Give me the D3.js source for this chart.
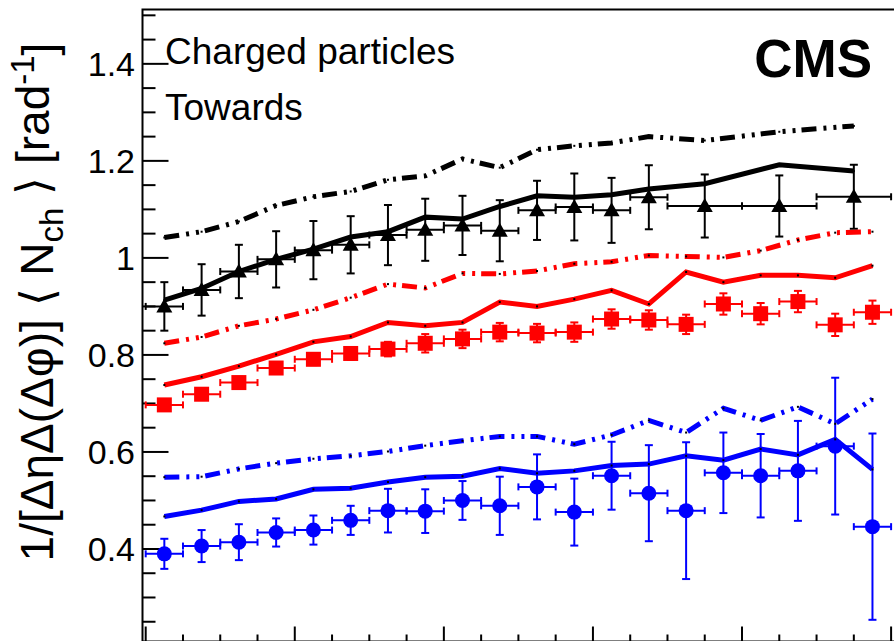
<!DOCTYPE html>
<html>
<head>
<meta charset="utf-8">
<script src="https://cdn.jsdelivr.net/npm/d3@7"></script>
<style>
  body { margin: 0; background: #fff; }
  text { font-family: "Liberation Sans", Arial, sans-serif; }
</style>
</head>
<body>
<div id="chart"></div>
<script>
const width = 894;
const height = 641;

// bin edges (in axis units, minor tick = 1)
const binsFine = d3.range(0, 20).map(i => [i, i + 1]);
const binsBlack = d3.range(0, 14).map(i => [i, i + 1]).concat([[14, 16], [16, 18], [18, 20]]);

// black triangles (towards, data)
const blackData = [0.900, 0.934, 0.972, 0.997, 1.016, 1.027, 1.047, 1.058, 1.067, 1.056, 1.098, 1.105, 1.098, 1.125, 1.107, 1.107, 1.126];
const blackErr  = [0.050, 0.053, 0.055, 0.058, 0.060, 0.059, 0.062, 0.064, 0.061, 0.063, 0.061, 0.069, 0.067, 0.066, 0.065, 0.063, 0.066];
const blackSolid = [0.913, 0.937, 0.972, 0.997, 1.018, 1.043, 1.054, 1.084, 1.080, 1.106, 1.128, 1.125, 1.130, 1.142, 1.153, 1.192, 1.179];
const blackDash  = [1.042, 1.054, 1.075, 1.108, 1.126, 1.137, 1.161, 1.169, 1.204, 1.186, 1.223, 1.231, 1.237, 1.250, 1.242, 1.260, 1.272];

// red squares
const redData = [0.697, 0.719, 0.743, 0.773, 0.791, 0.803, 0.812, 0.824, 0.833, 0.847, 0.845, 0.847, 0.874, 0.872, 0.863, 0.905, 0.885, 0.910, 0.862, 0.888];
const redErr  = [0.012, 0.012, 0.012, 0.012, 0.012, 0.013, 0.015, 0.019, 0.019, 0.019, 0.019, 0.020, 0.020, 0.020, 0.020, 0.022, 0.022, 0.022, 0.023, 0.024];
const redSolid = [0.738, 0.755, 0.777, 0.801, 0.827, 0.838, 0.867, 0.860, 0.867, 0.909, 0.900, 0.915, 0.933, 0.905, 0.971, 0.950, 0.964, 0.964, 0.959, 0.984];
const redDash  = [0.824, 0.837, 0.860, 0.874, 0.893, 0.918, 0.946, 0.938, 0.968, 0.967, 0.973, 0.988, 0.992, 1.005, 1.003, 1.001, 1.015, 1.037, 1.052, 1.054];

// blue circles
const blueData = [0.390, 0.406, 0.414, 0.434, 0.439, 0.459, 0.479, 0.478, 0.500, 0.489, 0.528, 0.476, 0.551, 0.515, 0.479, 0.557, 0.551, 0.561, 0.612, 0.446];
const blueErr  = [0.031, 0.033, 0.037, 0.029, 0.030, 0.030, 0.045, 0.045, 0.040, 0.060, 0.067, 0.069, 0.070, 0.099, 0.141, 0.083, 0.086, 0.103, 0.141, 0.192];
const blueSolid = [0.467, 0.480, 0.498, 0.503, 0.523, 0.525, 0.538, 0.548, 0.550, 0.566, 0.556, 0.561, 0.572, 0.575, 0.592, 0.583, 0.606, 0.594, 0.626, 0.564];
const blueDash  = [0.548, 0.549, 0.565, 0.577, 0.586, 0.592, 0.601, 0.613, 0.623, 0.632, 0.632, 0.616, 0.635, 0.665, 0.640, 0.690, 0.665, 0.693, 0.658, 0.709];

const yTicks = [0.4, 0.6, 0.8, 1.0, 1.2, 1.4];

const x = d3.scaleLinear().domain([0, 20]).range([145.7, 891.1]);
const y = d3.scaleLinear().domain([0.2, 1.511]).range([646, 10]);

const svg = d3.select("#chart").append("svg")
  .attr("width", width)
  .attr("height", height);

const frameL = 142.5, frameT = 9.5, frameB = 641.5, frameR = 900;

// frame
svg.append("path")
  .attr("d", `M${frameL},${frameB}V${frameT}H${frameR}`)
  .attr("fill", "none").attr("stroke", "black").attr("stroke-width", 2);
svg.append("line")
  .attr("x1", frameL).attr("x2", frameR).attr("y1", frameB).attr("y2", frameB)
  .attr("stroke", "black").attr("stroke-width", 2);

// y ticks
d3.range(0.25, 1.5001, 0.05).forEach(v => {
  const major = Math.abs(v * 5 - Math.round(v * 5)) < 1e-6;
  svg.append("line")
    .attr("x1", frameL).attr("x2", frameL + (major ? 26 : 13))
    .attr("y1", y(v)).attr("y2", y(v))
    .attr("stroke", "black").attr("stroke-width", 2);
});
yTicks.forEach(v => {
  svg.append("text")
    .attr("x", 135).attr("y", y(v)).attr("dy", "0.36em")
    .attr("text-anchor", "end")
    .attr("font-size", "34px")
    .text(String(+v.toFixed(1)));
});

// x ticks
d3.range(0, 21).forEach(u => {
  const major = u % 4 === 0;
  svg.append("line")
    .attr("x1", x(u)).attr("x2", x(u))
    .attr("y1", frameB).attr("y2", frameB - (major ? 15 : 7))
    .attr("stroke", "black").attr("stroke-width", 2);
});

// data points with error bars
function drawData(vals, errs, bins, color, shape) {
  const g = svg.append("g");
  vals.forEach((v, i) => {
    const [a, b] = bins[i];
    const cx = x((a + b) / 2), cy = y(v);
    const x1 = x(a), x2 = x(b);
    const yt = y(v + errs[i]), yb = y(v - errs[i]);
    const ln = (p, q, r, s) => g.append("line").attr("x1", p).attr("y1", q).attr("x2", r).attr("y2", s)
      .attr("stroke", color).attr("stroke-width", 2);
    ln(x1, cy, x2, cy);
    ln(x1, cy - 3.5, x1, cy + 3.5);
    ln(x2, cy - 3.5, x2, cy + 3.5);
    ln(cx, yt, cx, yb);
    ln(cx - 4, yt, cx + 4, yt);
    ln(cx - 4, yb, cx + 4, yb);
    if (shape === "circle") {
      g.append("circle").attr("cx", cx).attr("cy", cy).attr("r", 7.5).attr("fill", color);
    } else if (shape === "square") {
      g.append("rect").attr("x", cx - 7.5).attr("y", cy - 7.5).attr("width", 15).attr("height", 15).attr("fill", color);
    } else {
      g.append("path").attr("d", `M${cx},${cy - 8}L${cx + 8},${cy + 6}L${cx - 8},${cy + 6}Z`).attr("fill", color);
    }
  });
}

drawData(blueData, blueErr, binsFine, "#0000ff", "circle");
drawData(redData, redErr, binsFine, "#ff0000", "square");
drawData(blackData, blackErr, binsBlack, "#000000", "triangle");

// model curves
function drawCurve(vals, bins, color, dashed) {
  const pts = vals.map((v, i) => [x((bins[i][0] + bins[i][1]) / 2), y(v)]);
  svg.append("path")
    .attr("d", d3.line()(pts))
    .attr("fill", "none")
    .attr("stroke", color)
    .attr("stroke-width", 5)
    .attr("stroke-dasharray", dashed ? "15 7 3 7 3 6" : null);
  pts.forEach(p => {
    svg.append("rect").attr("x", p[0] - 1).attr("y", p[1] - 1).attr("width", 2).attr("height", 2).attr("fill", "black");
  });
}

drawCurve(blueDash, binsFine, "#0000ff", true);
drawCurve(blueSolid, binsFine, "#0000ff", false);
drawCurve(redDash, binsFine, "#ff0000", true);
drawCurve(redSolid, binsFine, "#ff0000", false);
drawCurve(blackDash, binsBlack, "#000000", true);
drawCurve(blackSolid, binsBlack, "#000000", false);

// labels
svg.append("text").attr("x", 165).attr("y", 64).attr("font-size", "37px").text("Charged particles");
svg.append("text").attr("x", 165).attr("y", 120).attr("font-size", "37px").text("Towards");
svg.append("text").attr("x", 872).attr("y", 77).attr("text-anchor", "end")
  .attr("font-size", "53px").attr("font-weight", "bold").text("CMS");

// y title
const yt = svg.append("text")
  .attr("transform", "translate(53,302) rotate(-90)")
  .attr("text-anchor", "middle")
  .attr("font-size", "46px");
yt.append("tspan").text("1/[ΔηΔ(Δφ)] \u27E8 N");
yt.append("tspan").attr("dy", "0.3em").attr("font-size", "33px").text("ch");
yt.append("tspan").attr("dy", "-0.3em").text("  \u27E9 [rad");
yt.append("tspan").attr("dy", "-0.45em").attr("font-size", "33px").text("-1");
yt.append("tspan").attr("dy", "0.45em").text("]");
</script>
</body>
</html>
